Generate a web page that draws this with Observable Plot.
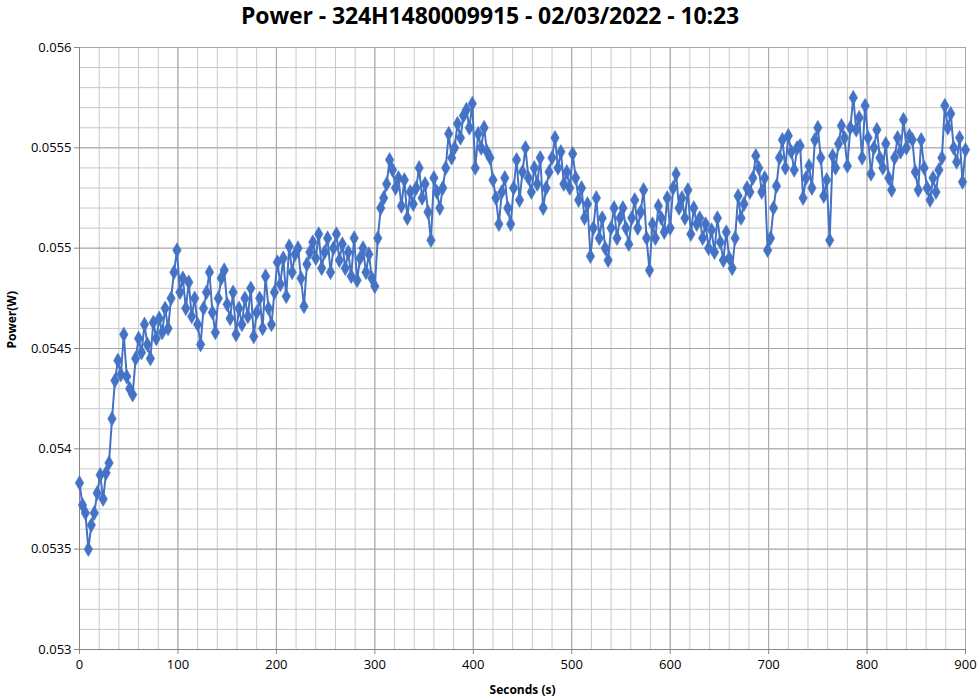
<!DOCTYPE html>
<html><head><meta charset="utf-8">
<script src="https://cdn.jsdelivr.net/npm/d3@7"></script>
<script src="https://cdn.jsdelivr.net/npm/@observablehq/plot@0.6"></script>
<style>
body{margin:0;background:#fff;font-family:"Open Sans",sans-serif;}
#title{height:34px;line-height:31px;text-align:center;font-weight:bold;font-size:23px;font-family:"Open Sans",sans-serif;color:#000;letter-spacing:-0.1px;}
</style></head><body>
<div id="title"></div>
<div id="chart"></div>
<script>
const titleText = "Power - 324H1480009915 - 02/03/2022 - 10:23";
const xLabel = "Seconds (s)";
const yLabel = "Power(W)";
const step = 3; // sampling interval in seconds
const power = [
0.05383,0.05372,0.05368,0.05350,0.05362,0.05368,0.05378,0.05387,0.05375,0.05388,
0.05393,0.05415,0.05434,0.05444,0.05437,0.05457,0.05436,0.05430,0.05427,0.05445,
0.05455,0.05448,0.05462,0.05452,0.05445,0.05463,0.05455,0.05465,0.05458,0.05470,
0.05460,0.05475,0.05488,0.05499,0.05478,0.05485,0.05470,0.05483,0.05466,0.05475,
0.05462,0.05452,0.05470,0.05478,0.05488,0.05468,0.05458,0.05475,0.05485,0.05489,
0.05472,0.05465,0.05478,0.05457,0.05470,0.05462,0.05475,0.05466,0.05480,0.05456,
0.05468,0.05475,0.05460,0.05486,0.05470,0.05462,0.05478,0.05493,0.05482,0.05495,
0.05476,0.05501,0.05488,0.05497,0.05500,0.05485,0.05471,0.05492,0.05498,0.05503,
0.05495,0.05507,0.05490,0.05498,0.05505,0.05488,0.05500,0.05507,0.05494,0.05502,
0.05490,0.05498,0.05486,0.05505,0.05484,0.05495,0.05500,0.05488,0.05497,0.05485,
0.05481,0.05505,0.05520,0.05525,0.05532,0.05544,0.05539,0.05530,0.05535,0.05521,
0.05534,0.05515,0.05528,0.05522,0.05530,0.05540,0.05525,0.05532,0.05518,0.05504,
0.05535,0.05528,0.05520,0.05530,0.05540,0.05557,0.05545,0.05550,0.05562,0.05555,
0.05566,0.05569,0.05560,0.05572,0.05540,0.05557,0.05550,0.05560,0.05548,0.05545,
0.05534,0.05525,0.05512,0.05528,0.05535,0.05520,0.05512,0.05530,0.05544,0.05524,
0.05538,0.05550,0.05535,0.05528,0.05540,0.05532,0.05545,0.05520,0.05530,0.05538,
0.05545,0.05555,0.05540,0.05548,0.05532,0.05538,0.05530,0.05547,0.05535,0.05524,
0.05530,0.05515,0.05522,0.05496,0.05510,0.05525,0.05505,0.05515,0.05500,0.05494,
0.05510,0.05520,0.05505,0.05515,0.05520,0.05510,0.05502,0.05515,0.05524,0.05510,
0.05518,0.05529,0.05505,0.05489,0.05512,0.05505,0.05521,0.05515,0.05508,0.05525,
0.05510,0.05530,0.05537,0.05520,0.05525,0.05515,0.05529,0.05507,0.05520,0.05512,
0.05515,0.05505,0.05512,0.05500,0.05509,0.05498,0.05515,0.05503,0.05494,0.05508,
0.05495,0.05490,0.05505,0.05526,0.05515,0.05522,0.05530,0.05528,0.05535,0.05546,
0.05540,0.05528,0.05535,0.05499,0.05505,0.05520,0.05531,0.05545,0.05554,0.05540,
0.05556,0.05548,0.05539,0.05550,0.05551,0.05525,0.05535,0.05541,0.05530,0.05554,
0.05560,0.05545,0.05526,0.05534,0.05504,0.05546,0.05540,0.05552,0.05561,0.05555,
0.05541,0.05560,0.05575,0.05559,0.05565,0.05545,0.05571,0.05555,0.05537,0.05550,
0.05559,0.05545,0.05540,0.05552,0.05535,0.05529,0.05545,0.05555,0.05548,0.05564,
0.05550,0.05556,0.05554,0.05538,0.05529,0.05554,0.05540,0.05530,0.05524,0.05535,
0.05528,0.05539,0.05545,0.05571,0.05560,0.05567,0.05550,0.05543,0.05555,0.05533,
0.05549
];
const xTicks = [0,100,200,300,400,500,600,700,800,900];
const yTicks = [0.053,0.0535,0.054,0.0545,0.055,0.0555,0.056];

document.getElementById("title").textContent = titleText;
const data = power.map((v, i) => ({t: i * step, p: v}));
const xMinor = d3.range(0, 901, 20);
const yMinor = d3.range(0, 31).map(i => 0.053 + i * 0.0001);
const blue = "#4472C4";

const chart = Plot.plot({
  width: 980, height: 666,
  marginTop: 13, marginLeft: 79, marginRight: 15, marginBottom: 51,
  style: {fontFamily: "'Open Sans', sans-serif", fontSize: "12px", color: "#000", background: "#fff"},
  x: {domain: [0, 900]},
  y: {domain: [0.053, 0.056]},
  marks: [
    Plot.ruleX(xMinor, {stroke: "#c8c8c8", strokeWidth: 1}),
    Plot.ruleY(yMinor, {stroke: "#c8c8c8", strokeWidth: 1}),
    Plot.ruleX(xTicks, {stroke: "#a6a6a6", strokeWidth: 1}),
    Plot.ruleY(yTicks, {stroke: "#a6a6a6", strokeWidth: 1}),
    Plot.ruleX([0], {stroke: "#868686"}),
    Plot.ruleY([0.053], {stroke: "#868686"}),
    Plot.axisX({ticks: xTicks, tickSize: 5, tickPadding: 5, label: null, stroke: "#868686", fontSize: 13}),
    Plot.axisY({ticks: yTicks, tickSize: 5, tickPadding: 3, label: null, stroke: "#868686", fontSize: 13,
      tickFormat: d => String(+d.toFixed(4))}),
    Plot.text([xLabel], {frameAnchor: "bottom", dy: 41, lineAnchor: "middle", fontWeight: "bold", fontSize: 12, fill: "#000"}),
    Plot.text([yLabel], {frameAnchor: "left", dx: -67, rotate: -90, lineAnchor: "middle", fontWeight: "bold", fontSize: 12, fill: "#000"}),
    Plot.line(data, {x: "t", y: "p", stroke: blue, strokeWidth: 2}),
    Plot.dot(data, {x: "t", y: "p", symbol: "diamond", r: 4.5, fill: blue, stroke: blue, strokeWidth: 0.5})
  ]
});
document.getElementById("chart").appendChild(chart);
</script>
</body></html>
